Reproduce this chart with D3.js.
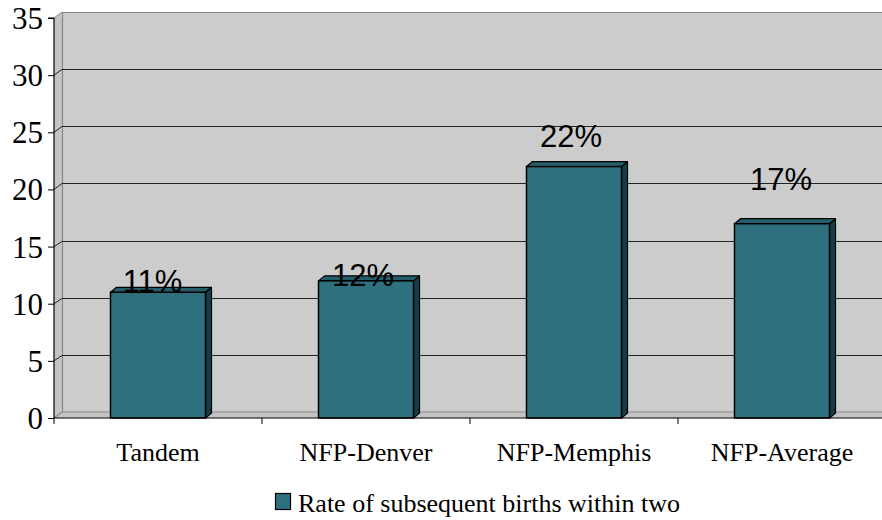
<!DOCTYPE html>
<html>
<head>
<meta charset="utf-8">
<script src="https://cdn.jsdelivr.net/npm/d3@7"></script>
<style>
  html, body { margin: 0; padding: 0; background: #ffffff; }
  svg { display: block; }
  .serif { font-family: 'Liberation Serif', 'Times New Roman', serif !important; }
</style>
</head>
<body>
<svg id="chart" width="882" height="520"></svg>
<script>
// ---- data ----
const categories = ["Tandem", "NFP-Denver", "NFP-Memphis", "NFP-Average"];
const values = [11, 12, 22, 17];
const valueLabels = ["11%", "12%", "22%", "17%"];
const yTicks = [0, 5, 10, 15, 20, 25, 30, 35];
const seriesName = "Rate of subsequent births within two";

// ---- layout ----
const svg = d3.select("#chart");
const W = 882, H = 520;
const left = 54, right = 886;
const y0 = 418, yTop = 18;
const wallDx = 8, wallDy = -6;     // depth of the chart box
const barDx = 6, barDy = -5;       // depth of each bar
const x = d3.scaleBand().domain(categories).range([left, right]).padding(0);
const y = d3.scaleLinear().domain([0, 35]).range([y0, yTop]);
const barW = 95;

// label nudges (px) to mimic the original placement
const labelDx = [-5.5, -3, -3, -1];
const labelDy = [0, 5, -20, -34];

const frontCol = "#2e707e", sideCol = "#183d45", topCol = "#255e6b";
const serif = "'Liberation Serif', 'Times New Roman', serif";

// side wall
svg.append("polygon")
  .attr("points", [[left, y(35)], [left + wallDx, y(35) + wallDy], [left + wallDx, y(0) + wallDy], [left, y(0)]].join(" "))
  .attr("fill", "#c4c4c4");
// floor
svg.append("polygon")
  .attr("points", [[left, y(0)], [left + wallDx, y(0) + wallDy], [W + 10, y(0) + wallDy], [W + 10, y(0)]].join(" "))
  .attr("fill", "#c4c4c4");
// back wall
svg.append("rect")
  .attr("x", left + wallDx).attr("y", y(35) + wallDy)
  .attr("width", W - left - wallDx + 10).attr("height", y(0) - y(35))
  .attr("fill", "#cccccc");

// wall edges
svg.append("path")
  .attr("d", `M${left + wallDx + 0.5},${y(0) + wallDy}V${y(35) + wallDy + 0.5}H${W + 10}`)
  .attr("fill", "none").attr("stroke", "#888").attr("stroke-width", 1.2);
svg.append("path")
  .attr("d", `M${left},${y(35)}L${left + wallDx},${y(35) + wallDy}`)
  .attr("fill", "none").attr("stroke", "#888").attr("stroke-width", 1);
svg.append("path")
  .attr("d", `M${left},${y(0)}L${left + wallDx},${y(0) + wallDy}H${W + 10}`)
  .attr("fill", "none").attr("stroke", "#888").attr("stroke-width", 1.2);

// gridlines (side wall diagonal + back wall horizontal)
const grid = yTicks.filter(t => t > 0 && t < 35);
svg.append("g").selectAll("path").data(grid).join("path")
  .attr("d", t => `M${left},${y(t)}L${left + wallDx},${Math.round(y(t) + wallDy) + 0.5}H${W + 10}`)
  .attr("fill", "none").attr("stroke", "#222").attr("stroke-width", 1);

// bars
const bars = svg.append("g").selectAll("g").data(values).join("g");
const bx = (d, i) => x(categories[i]) + x.bandwidth() / 2 - barW / 2;
bars.append("polygon") // right side
  .attr("points", (d, i) => {
    const xr = bx(d, i) + barW;
    return [[xr, y(d)], [xr + barDx, y(d) + barDy], [xr + barDx, y(0) + barDy], [xr, y(0)]].join(" ");
  })
  .attr("fill", sideCol).attr("stroke", "#000").attr("stroke-width", 1.2).attr("stroke-linejoin", "round");
bars.append("polygon") // top
  .attr("points", (d, i) => {
    const xl = bx(d, i);
    return [[xl, y(d)], [xl + barDx, y(d) + barDy], [xl + barW + barDx, y(d) + barDy], [xl + barW, y(d)]].join(" ");
  })
  .attr("fill", topCol).attr("stroke", "#000").attr("stroke-width", 1.2).attr("stroke-linejoin", "round");
bars.append("rect") // front
  .attr("x", (d, i) => bx(d, i)).attr("y", d => y(d))
  .attr("width", barW).attr("height", d => y(0) - y(d))
  .attr("fill", frontCol).attr("stroke", "#000").attr("stroke-width", 1.5);

// y axis
const yAxis = d3.axisLeft(y).tickValues(yTicks).tickSize(6).tickPadding(5);
const gy = svg.append("g").attr("transform", `translate(${left},0)`).call(yAxis);
gy.attr("font-family", serif).attr("font-size", 31);
gy.select(".domain").attr("stroke", "#000").attr("stroke-width", 1.2).attr("d", `M-6,${y(35)}H0V${y(0)}`);
gy.selectAll(".tick line").attr("stroke", "#000");
gy.selectAll(".tick text")
  .attr("class", "serif")
  .style("font-family", serif)
  .style("font-size", "31px").attr("fill", "#000").attr("dy", "0.34em");

// x axis
const xAxis = d3.axisBottom(x).tickSize(0).tickPadding(0);
const gx = svg.append("g").attr("transform", `translate(0,${y0})`).call(xAxis);
gx.attr("font-family", serif).attr("font-size", 26);
gx.select(".domain").attr("stroke", "#000").attr("stroke-width", 1.2).attr("d", `M${left},0H${W + 10}`);
gx.selectAll(".tick text")
  .attr("class", "serif")
  .style("font-family", serif)
  .style("font-size", "26px").attr("fill", "#000").attr("y", 43).attr("dy", 0);
// category separator ticks
const seps = categories.map(c => x(c)).concat([x(categories[3]) + x.bandwidth()]);
gx.append("g").selectAll("line").data(seps).join("line")
  .attr("x1", d => d).attr("x2", d => d).attr("y1", 0).attr("y2", 6)
  .attr("stroke", "#000").attr("stroke-width", 1);

// value labels
svg.append("g").selectAll("text").data(valueLabels).join("text")
  .attr("x", (d, i) => x(categories[i]) + x.bandwidth() / 2 + labelDx[i])
  .attr("y", (d, i) => y(values[i]) + labelDy[i])
  .attr("text-anchor", "middle")
  .style("font-family", "'Liberation Sans', Arial, sans-serif")
  .style("font-size", "31px").attr("fill", "#000")
  .text(d => d);

// legend
const lg = svg.append("g");
lg.append("rect").attr("x", 275.5).attr("y", 493.5).attr("width", 15).attr("height", 16)
  .attr("fill", frontCol).attr("stroke", "#000").attr("stroke-width", 1.2);
lg.append("text").attr("x", 298).attr("y", 512)
  .style("font-family", serif)
  .style("font-size", "26px").attr("fill", "#000")
  .text(seriesName);
</script>
</body>
</html>
